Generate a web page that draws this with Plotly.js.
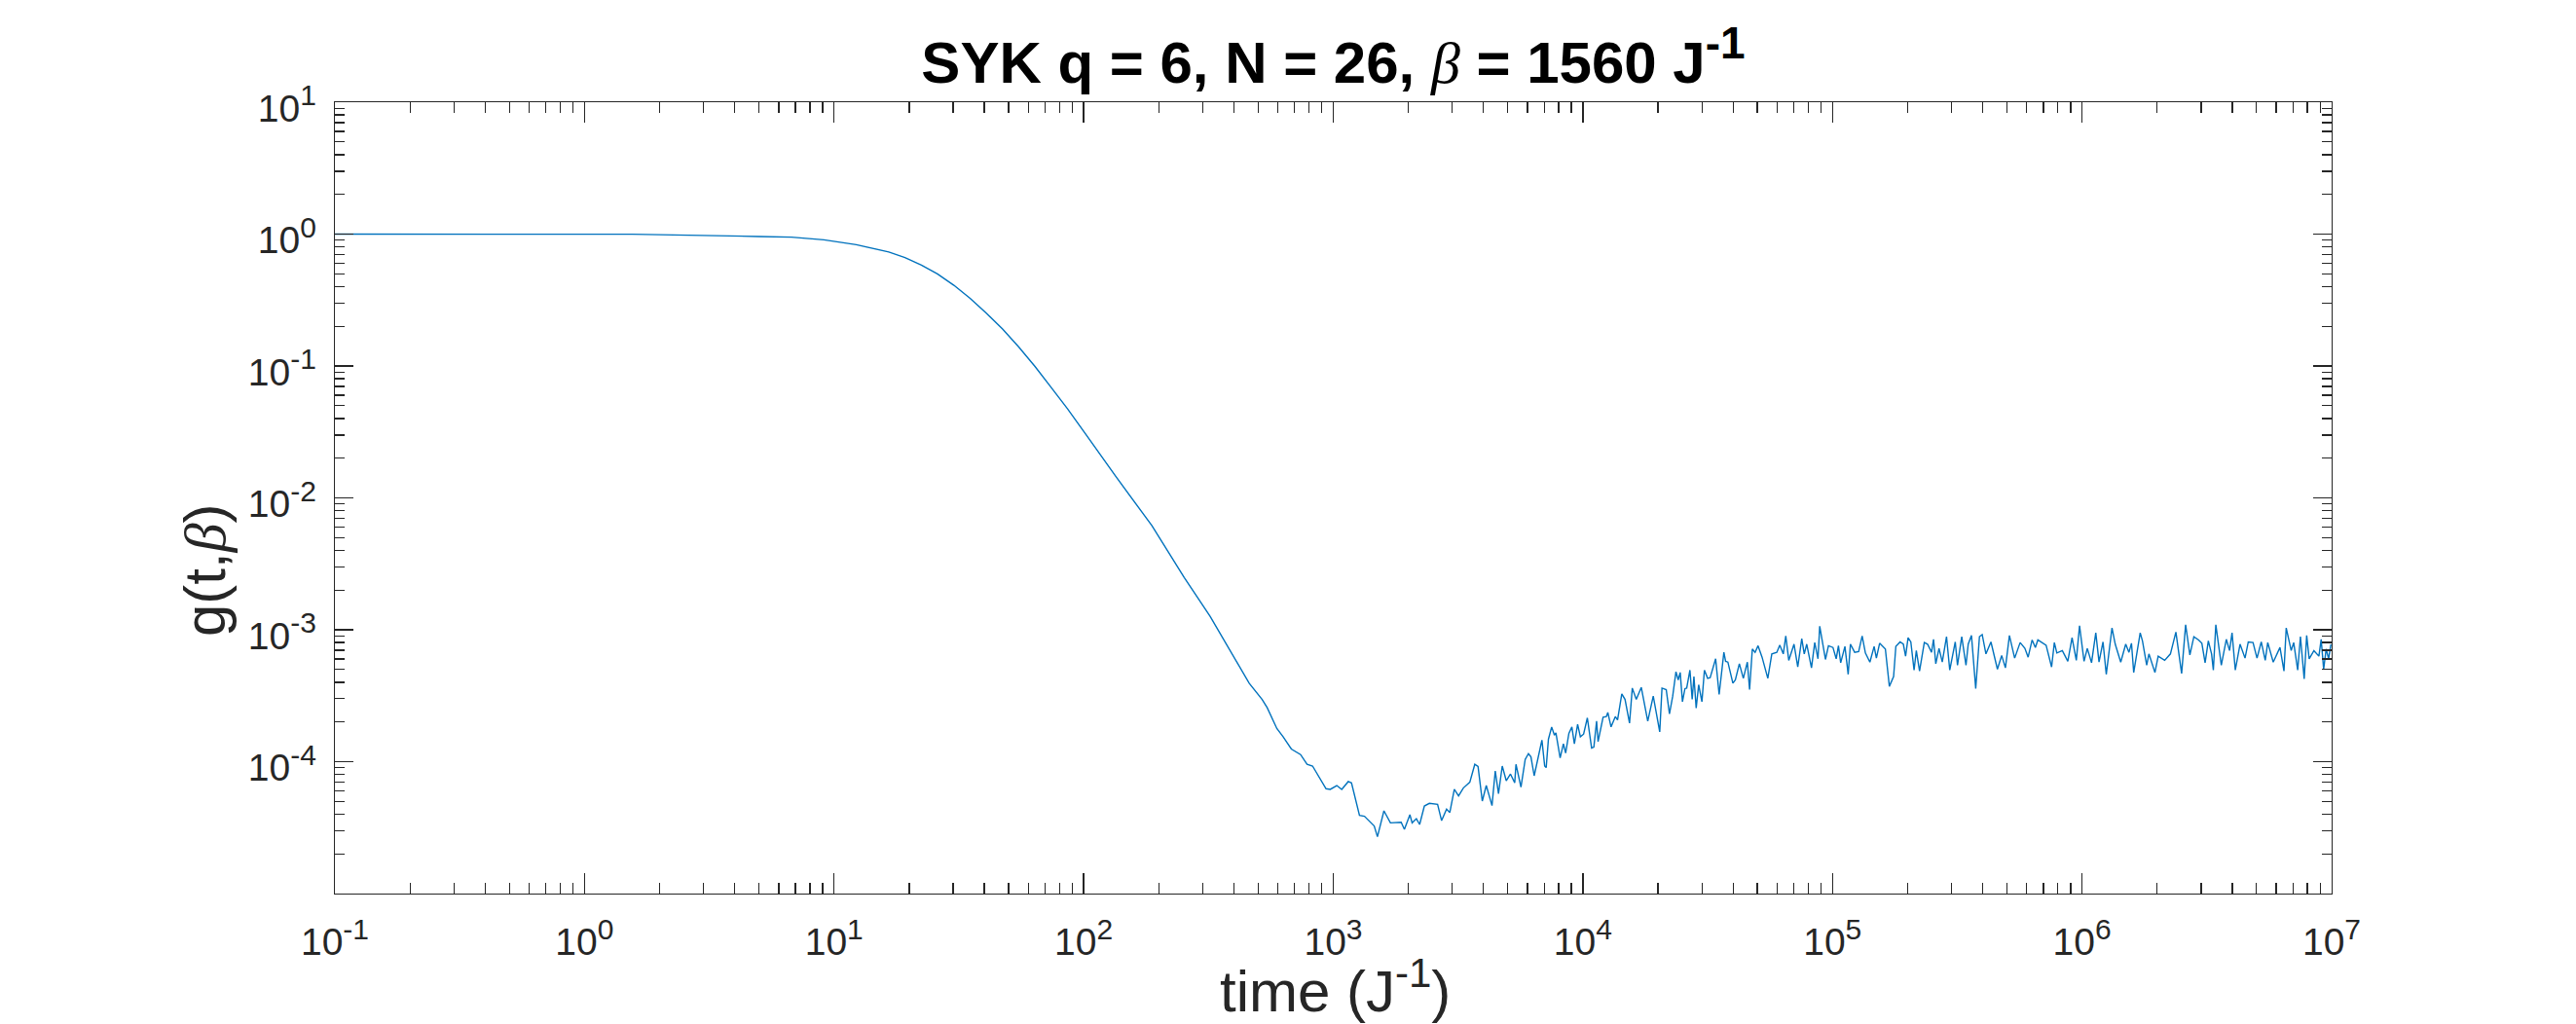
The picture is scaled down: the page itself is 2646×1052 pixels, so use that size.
<!DOCTYPE html>
<html>
<head>
<meta charset="utf-8">
<script src="https://cdn.plot.ly/plotly-3.0.1.min.js"></script>
<style>
  html, body { margin: 0; padding: 0; background: #ffffff; }
  #chart { width: 2646px; height: 1052px; }
</style>
</head>
<body>
<div id="chart"></div>
<script>
// Values, stored as base-10 exponents (the chart is log-log).
const timeExp = [
  -1.000, -0.393, 0.192, 0.699, 0.829, 0.959, 1.089, 1.219, 1.284, 1.350, 1.414, 1.480, 1.545, 1.609, 1.675,
  1.740, 1.805, 1.870, 1.935, 2.000, 2.065, 2.130, 2.273, 2.403, 2.507, 2.598, 2.663, 2.715, 2.735, 2.774,
  2.799, 2.832, 2.869, 2.895, 2.917, 2.971, 2.988, 3.014, 3.034, 3.060, 3.073, 3.105, 3.125, 3.164, 3.177,
  3.203, 3.229, 3.272, 3.285, 3.307, 3.316, 3.333, 3.346, 3.365, 3.385, 3.418, 3.434, 3.454, 3.467, 3.485,
  3.502, 3.521, 3.547, 3.567, 3.580, 3.597, 3.613, 3.636, 3.649, 3.662, 3.677, 3.693, 3.710, 3.727, 3.732,
  3.752, 3.769, 3.782, 3.792, 3.805, 3.821, 3.836, 3.847, 3.853, 3.862, 3.875, 3.886, 3.892, 3.909, 3.922,
  3.931, 3.944, 3.956, 3.966, 3.979, 3.990, 4.003, 4.018, 4.035, 4.044, 4.055, 4.061, 4.081, 4.094, 4.100,
  4.113, 4.130, 4.139, 4.156, 4.169, 4.187, 4.198, 4.214, 4.234, 4.260, 4.282, 4.308, 4.317, 4.334, 4.347,
  4.360, 4.373, 4.382, 4.390, 4.399, 4.409, 4.416, 4.429, 4.438, 4.445, 4.454, 4.464, 4.477, 4.487, 4.500,
  4.510, 4.532, 4.546, 4.565, 4.572, 4.581, 4.601, 4.611, 4.627, 4.643, 4.659, 4.668, 4.679, 4.690, 4.702,
  4.718, 4.741, 4.757, 4.777, 4.789, 4.803, 4.813, 4.825, 4.846, 4.861, 4.877, 4.887, 4.897, 4.916, 4.929,
  4.942, 4.949, 4.972, 4.984, 5.002, 5.015, 5.024, 5.033, 5.050, 5.063, 5.072, 5.089, 5.105, 5.119, 5.132,
  5.150, 5.167, 5.176, 5.189, 5.212, 5.228, 5.245, 5.254, 5.271, 5.284, 5.293, 5.303, 5.314, 5.327, 5.336,
  5.349, 5.368, 5.381, 5.397, 5.405, 5.414, 5.427, 5.440, 5.457, 5.470, 5.492, 5.501, 5.518, 5.535, 5.544,
  5.557, 5.574, 5.589, 5.600, 5.615, 5.635, 5.661, 5.678, 5.693, 5.709, 5.730, 5.752, 5.771, 5.784, 5.800,
  5.813, 5.823, 5.839, 5.856, 5.878, 5.889, 5.899, 5.921, 5.943, 5.960, 5.977, 5.990, 6.008, 6.021, 6.038,
  6.055, 6.068, 6.084, 6.097, 6.120, 6.133, 6.155, 6.175, 6.188, 6.198, 6.207, 6.233, 6.242, 6.259, 6.268,
  6.292, 6.305, 6.331, 6.354, 6.376, 6.399, 6.415, 6.432, 6.448, 6.467, 6.480, 6.493, 6.506, 6.519, 6.526,
  6.536, 6.558, 6.578, 6.591, 6.601, 6.614, 6.633, 6.653, 6.666, 6.685, 6.701, 6.718, 6.734, 6.744, 6.766,
  6.793, 6.809, 6.818, 6.838, 6.848, 6.864, 6.875, 6.890, 6.900, 6.910, 6.929, 6.949, 6.958, 6.968, 6.978,
  6.988, 6.997
];
const gExp = [
  0.000, 0.000, -0.001, -0.018, -0.023, -0.043, -0.080, -0.136, -0.178, -0.235, -0.302, -0.388, -0.487, -0.597, -0.720,
  -0.856, -1.004, -1.163, -1.324, -1.496, -1.669, -1.841, -2.210, -2.604, -2.900, -3.195, -3.405, -3.528, -3.590, -3.749,
  -3.811, -3.904, -3.946, -4.020, -4.033, -4.205, -4.210, -4.181, -4.210, -4.151, -4.161, -4.407, -4.414, -4.488, -4.569,
  -4.373, -4.464, -4.459, -4.513, -4.402, -4.464, -4.432, -4.476, -4.336, -4.316, -4.323, -4.447, -4.360, -4.385, -4.210,
  -4.259, -4.200, -4.156, -4.020, -4.037, -4.299, -4.181, -4.333, -4.070, -4.242, -4.033, -4.144, -4.094, -4.161, -4.020,
  -4.193, -3.983, -3.939, -3.964, -4.107, -3.971, -3.836, -4.033, -4.045, -3.830, -3.737, -3.799, -3.782, -3.971, -3.865,
  -3.934, -3.786, -3.737, -3.865, -3.717, -3.811, -3.791, -3.668, -3.897, -3.890, -3.693, -3.848, -3.663, -3.658, -3.627,
  -3.737, -3.658, -3.683, -3.486, -3.528, -3.708, -3.442, -3.528, -3.437, -3.693, -3.503, -3.774, -3.442, -3.454, -3.638,
  -3.503, -3.318, -3.380, -3.324, -3.545, -3.446, -3.442, -3.306, -3.528, -3.355, -3.594, -3.417, -3.545, -3.306, -3.368,
  -3.363, -3.220, -3.491, -3.171, -3.239, -3.245, -3.405, -3.380, -3.257, -3.368, -3.245, -3.454, -3.146, -3.171, -3.121,
  -3.208, -3.368, -3.183, -3.171, -3.117, -3.183, -3.047, -3.232, -3.109, -3.282, -3.067, -3.183, -3.109, -3.289, -3.097,
  -3.220, -2.973, -3.225, -3.121, -3.134, -3.220, -3.121, -3.250, -3.126, -3.338, -3.109, -3.171, -3.166, -3.047, -3.176,
  -3.245, -3.126, -3.215, -3.102, -3.146, -3.429, -3.355, -3.126, -3.092, -3.109, -3.200, -3.060, -3.092, -3.306, -3.158,
  -3.313, -3.097, -3.109, -3.171, -3.072, -3.257, -3.141, -3.245, -3.052, -3.306, -3.092, -3.269, -3.052, -3.269, -3.109,
  -3.043, -3.446, -3.052, -3.036, -3.183, -3.092, -3.299, -3.195, -3.289, -3.043, -3.215, -3.097, -3.141, -3.208, -3.077,
  -3.134, -3.077, -3.097, -3.117, -3.282, -3.097, -3.176, -3.158, -3.239, -3.060, -3.232, -2.969, -3.239, -3.141, -3.250,
  -3.023, -3.245, -3.092, -3.338, -2.986, -3.109, -3.245, -3.109, -3.171, -3.102, -3.324, -3.023, -3.084, -3.269, -3.183,
  -3.324, -3.200, -3.232, -3.183, -3.018, -3.331, -2.962, -3.191, -3.052, -3.077, -3.102, -3.250, -3.084, -3.183, -3.306,
  -2.962, -3.269, -3.072, -3.158, -3.023, -3.306, -3.109, -3.215, -3.092, -3.097, -3.215, -3.092, -3.232, -3.097, -3.245,
  -3.134, -3.313, -2.986, -3.158, -3.097, -3.306, -3.052, -3.372, -3.043, -3.220, -3.158, -3.200, -3.072, -3.299, -3.146,
  -3.220, -3.109
];

// Axis tick labels
const xTickExps = [-1, 0, 1, 2, 3, 4, 5, 6, 7];
const yTickExps = [-4, -3, -2, -1, 0, 1];
const supTick = e => '10<sup><span style="font-size:30px">' + e + '</span></sup>';
const xTickText = xTickExps.map(supTick);
const yTickText = yTickExps.map(supTick);

const timeVals = timeExp.map(e => Math.pow(10, e));
const gVals = gExp.map(e => Math.pow(10, e));

function minorVals(lo, hi) {
  const out = [];
  for (let d = lo; d < hi; d++) for (let k = 2; k <= 9; k++) out.push(k * Math.pow(10, d));
  return out;
}

const W = 2646, H = 1052;
const M = { l: 344, r: 251, t: 105, b: 134 };
const PW = W - M.l - M.r, PH = H - M.t - M.b;
const px2x = px => (px - M.l) / PW;
const px2y = py => (H - M.b - py) / PH;

const axisColor = '#262626';
const font = 'Liberation Sans, Arial, Helvetica, sans-serif';

const trace = {
  x: timeVals,
  y: gVals,
  type: 'scatter',
  mode: 'lines',
  line: { color: '#0072BD', width: 1.4 },
  hoverinfo: 'skip'
};

const layout = {
  width: W, height: H,
  margin: M,
  paper_bgcolor: '#ffffff',
  plot_bgcolor: '#ffffff',
  showlegend: false,
  title: {
    text: 'SYK q = 6, N = 26, <span style="font-family:Liberation Serif;font-weight:normal"><i>β</i></span> = 1560 J<sup><span style="font-size:46px">-1</span></sup>',
    font: { family: font, size: 60, color: '#000000', weight: 'bold' },
    x: 0.5, xref: 'paper', xanchor: 'center',
    y: 1 - 64 / H, yref: 'container', yanchor: 'middle'
  },
  xaxis: {
    type: 'log',
    range: [-1, 7],
    tickmode: 'array',
    tickvals: xTickExps.map(e => Math.pow(10, e)),
    ticktext: xTickText,
    ticks: 'inside', ticklen: 21, tickwidth: 1.3, tickcolor: axisColor,
    minor: { tickmode: 'array', tickvals: minorVals(-1, 7), ticks: 'inside', ticklen: 11, tickwidth: 1.3, tickcolor: axisColor },
    showline: true, linecolor: axisColor, linewidth: 1.3, mirror: 'allticks',
    showgrid: false, zeroline: false,
    tickfont: { family: font, size: 39, color: axisColor },
    ticklabelstandoff: 15
  },
  yaxis: {
    type: 'log',
    range: [-5, 1],
    tickmode: 'array',
    tickvals: yTickExps.map(e => Math.pow(10, e)),
    ticktext: yTickText,
    ticks: 'inside', ticklen: 19, tickwidth: 1.3, tickcolor: axisColor,
    minor: { tickmode: 'array', tickvals: minorVals(-5, 1), ticks: 'inside', ticklen: 10, tickwidth: 1.3, tickcolor: axisColor },
    showline: true, linecolor: axisColor, linewidth: 1.3, mirror: 'allticks',
    showgrid: false, zeroline: false,
    tickfont: { family: font, size: 39, color: axisColor },
    ticklabelstandoff: 10,
    ticklabelshift: 6
  },
  annotations: [
    {
      text: 'time (J<sup>-1</sup>)',
      xref: 'paper', yref: 'paper',
      x: px2x(1371), y: px2y(1014),
      xanchor: 'center', yanchor: 'middle',
      showarrow: false,
      font: { family: font, size: 60, color: axisColor }
    },
    {
      text: 'g(t,<span style="font-family:Liberation Serif"><i>β</i></span>)',
      xref: 'paper', yref: 'paper',
      x: px2x(210), y: px2y(586),
      xanchor: 'center', yanchor: 'middle',
      textangle: -90,
      showarrow: false,
      font: { family: font, size: 60, color: axisColor }
    }
  ]
};

Plotly.newPlot('chart', [trace], layout, { displayModeBar: false, staticPlot: true });
</script>
</body>
</html>
